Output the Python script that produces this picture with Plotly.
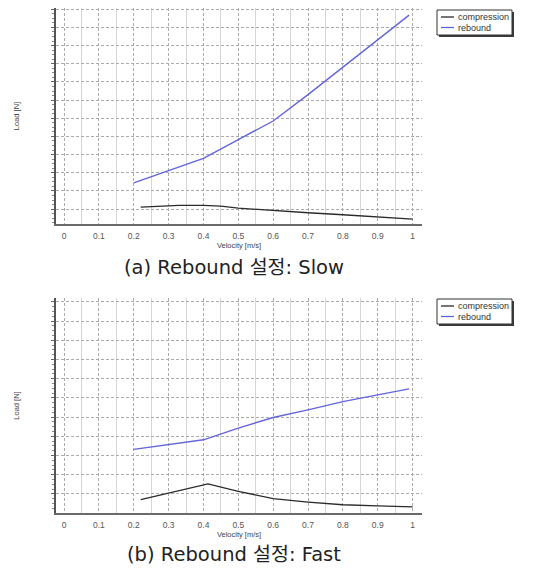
import plotly.graph_objects as go

# ---- data (y in grid units, no y labels shown) ----
slow_reb_v = [0.2, 0.3, 0.4, 0.5, 0.6, 0.7, 0.8, 0.9, 0.99]
slow_reb_load = [2.44, 3.10, 3.79, 4.83, 5.85, 7.30, 8.82, 10.29, 11.68]
slow_comp_v = [0.22, 0.33, 0.4, 0.45, 0.5, 0.6, 0.7, 0.8, 0.9, 1.0]
slow_comp_load = [1.11, 1.20, 1.20, 1.16, 1.05, 0.91, 0.80, 0.69, 0.58, 0.45]

fast_reb_v = [0.2, 0.3, 0.4, 0.5, 0.6, 0.7, 0.8, 0.9, 0.99]
fast_reb_load = [3.32, 3.56, 3.82, 4.43, 4.98, 5.38, 5.81, 6.16, 6.47]
fast_comp_v = [0.22, 0.3, 0.413, 0.5, 0.6, 0.7, 0.8, 0.9, 1.0]
fast_comp_load = [0.70, 1.05, 1.53, 1.14, 0.76, 0.58, 0.44, 0.38, 0.33]

x_ticks = [0, 0.1, 0.2, 0.3, 0.4, 0.5, 0.6, 0.7, 0.8, 0.9, 1]
x_tick_text = ["0", "0.1", "0.2", "0.3", "0.4", "0.5", "0.6", "0.7", "0.8", "0.9", "1"]
captions = ["(a) Rebound 설정: Slow", "(b) Rebound 설정: Fast"]
series_names = ["compression", "rebound"]
series_colors = ["#2b2b2b", "#6464dc"]

# the page body has an 8px margin: figure starts at (8, 8) in the window
OFF = 8
W, H = 545 - OFF, 569 - OFF

def px(v):
    return (v - OFF) / W

def py(v):
    return 1 - (v - OFF) / H

fig = go.Figure()

panels = [
    ("x", "y", [(slow_comp_v, slow_comp_load), (slow_reb_v, slow_reb_load)]),
    ("x2", "y2", [(fast_comp_v, fast_comp_load), (fast_reb_v, fast_reb_load)]),
]
for xa, ya, series in panels:
    for i, (xs, ys) in enumerate(series):
        fig.add_trace(go.Scatter(x=xs, y=ys, mode="lines", name=series_names[i],
                                 line=dict(color=series_colors[i], width=1.3 if i == 0 else 1.4),
                                 xaxis=xa, yaxis=ya, showlegend=False))

tickfont = dict(family="Liberation Sans, Arial, sans-serif", size=8.5, color="#555")
titlefont = dict(family="Liberation Sans, Arial, sans-serif", size=7.5, color="#444")
GRID = "#ababab"
DASH = "3px,2px"

def xaxis_cfg(anchor):
    return dict(
        domain=[px(56), px(422)], anchor=anchor,
        range=[-0.023, 1.027], tickmode="array", tickvals=x_ticks, ticktext=x_tick_text,
        tickfont=tickfont, ticks="", ticklabelstandoff=3,
        showline=True, linecolor="#6a6a6a", linewidth=2,
        showgrid=True, gridcolor=GRID, griddash=DASH, gridwidth=1,
        minor=dict(tick0=0.05, dtick=0.1, showgrid=True, gridcolor="#d6d6d6",
                   griddash="solid", gridwidth=1, ticks=""),
        title=dict(text="Velocity [m/s]", font=titlefont, standoff=3),
        zeroline=False, fixedrange=True,
    )

def yaxis_cfg(anchor, dom, rng):
    return dict(
        domain=dom, anchor=anchor, range=rng,
        tick0=0, dtick=1, showticklabels=False,
        ticks="outside", ticklen=3, tickcolor="#666", tickwidth=1,
        showline=True, linecolor="#555", linewidth=2,
        showgrid=True, gridcolor=GRID, griddash=DASH, gridwidth=1,
        minor=dict(dtick=0.25, ticks="outside", ticklen=2, tickcolor="#888", showgrid=False),
        title=dict(text="Load [N]", font=titlefont, standoff=30),
        zeroline=False, fixedrange=True,
    )

fig.update_layout(
    width=W, height=H,
    margin=dict(l=0, r=0, t=0, b=0),
    paper_bgcolor="white", plot_bgcolor="white",
    xaxis=xaxis_cfg("y"),
    yaxis=yaxis_cfg("x", [py(224), py(8)], [0.18, 12.07]),
    xaxis2=xaxis_cfg("y2"),
    yaxis2=yaxis_cfg("x2", [py(513), py(298)], [0.01, 11.2]),
    showlegend=False,
)

# ---- legends (box with drop shadow, short line swatches) ----
legfont = dict(family="Liberation Sans, Arial, sans-serif", size=9, color="#333")
for top in (10, 299):
    x0, x1, y0, y1 = 437, 512, top, top + 25
    fig.add_shape(type="rect", xref="paper", yref="paper",
                  x0=px(x0 + 2), x1=px(x1 + 2), y0=py(y1 + 2), y1=py(y0 + 2),
                  fillcolor="#3a3a3a", line=dict(width=0))
    fig.add_shape(type="rect", xref="paper", yref="paper",
                  x0=px(x0), x1=px(x1), y0=py(y1), y1=py(y0),
                  fillcolor="white", line=dict(color="#333", width=1))
    for i, name in enumerate(series_names):
        ly = top + 7 + i * 10.5
        fig.add_shape(type="line", xref="paper", yref="paper",
                      x0=px(441), x1=px(454), y0=py(ly), y1=py(ly),
                      line=dict(color=series_colors[i], width=1.3))
        fig.add_annotation(text=name, x=px(455.5), y=py(ly), xref="paper", yref="paper",
                           showarrow=False, font=legfont, xanchor="left", yanchor="middle")

capfont = dict(family="DejaVu Sans, Noto Sans CJK KR, sans-serif", size=19.5, color="#222")
fig.add_annotation(text=captions[0], x=px(234), y=py(267), xref="paper", yref="paper",
                   showarrow=False, font=capfont, xanchor="center", yanchor="middle")
fig.add_annotation(text=captions[1], x=px(234), y=py(554), xref="paper", yref="paper",
                   showarrow=False, font=capfont, xanchor="center", yanchor="middle")

fig.write_html("out.html")
